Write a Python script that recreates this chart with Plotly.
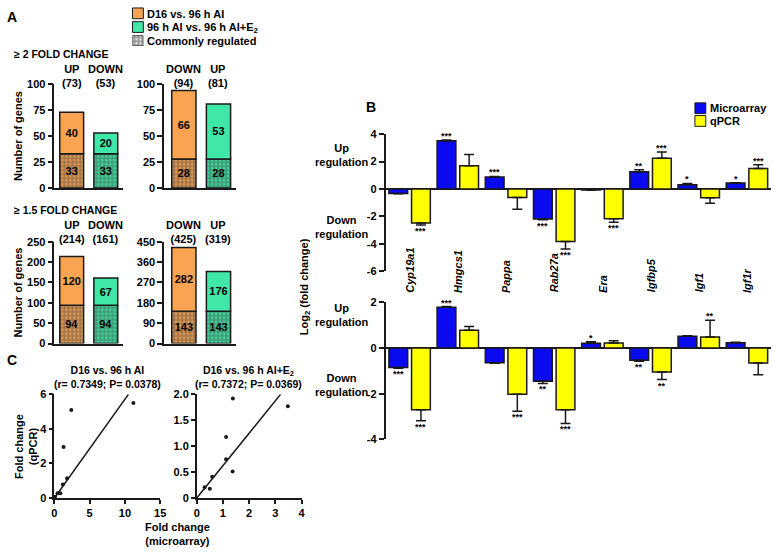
import plotly.graph_objects as go

# ---------------- DATA ----------------
# Panel A
cats_fc2_left = ["UP", "DOWN"]
common_fc2_left = [33, 33]
specific_fc2_left = [40, 20]
cats_fc2_right = ["DOWN", "UP"]
common_fc2_right = [28, 28]
specific_fc2_right = [66, 53]
cats_fc15_left = ["UP", "DOWN"]
common_fc15_left = [94, 94]
specific_fc15_left = [120, 67]
cats_fc15_right = ["DOWN", "UP"]
common_fc15_right = [143, 143]
specific_fc15_right = [282, 176]

# Panel B
genes = ["Cyp19a1", "Hmgcs1", "Pappa", "Rab27a", "Era", "Igfbp5", "Igf1", "Igf1r"]
micro_top = [-0.33, 3.52, 0.88, -2.19, -0.08, 1.26, 0.31, 0.43]
micro_top_err = [0.03, 0.06, 0.03, 0.06, 0.02, 0.14, 0.09, 0.03]
qpcr_top = [-2.48, 1.69, -0.62, -3.83, -2.17, 2.24, -0.64, 1.50]
qpcr_top_err = [0.16, 0.83, 0.86, 0.55, 0.26, 0.45, 0.41, 0.26]
micro_top_sig = ["", "***", "***", "***", "", "**", "*", "*"]
qpcr_top_sig = ["***", "", "", "***", "***", "***", "", "***"]

micro_bot = [-0.85, 1.79, -0.64, -1.45, 0.21, -0.53, 0.52, 0.23]
micro_bot_err = [0.03, 0.03, 0.03, 0.10, 0.07, 0.05, 0.02, 0.02]
qpcr_bot = [-2.70, 0.78, -2.02, -2.70, 0.22, -1.05, 0.49, -0.65]
qpcr_bot_err = [0.48, 0.16, 0.75, 0.60, 0.10, 0.33, 0.73, 0.52]
micro_bot_sig = ["***", "***", "", "**", "*", "**", "", ""]
qpcr_bot_sig = ["***", "", "***", "***", "", "**", "**", ""]

# Panel C
sc1_micro = [11.2, 2.4, 1.3, 1.8, 1.2, 0.85, 0.45, 0.1]
sc1_qpcr = [5.5, 5.1, 2.95, 1.15, 0.78, 0.28, 0.28, 0.07]
fit1_x = [0, 10.5]
fit1_y = [0, 6.0]
sc2_micro = [1.38, 3.48, 1.12, 1.12, 1.37, 0.59, 0.30, 0.50]
sc2_qpcr = [1.92, 1.77, 1.18, 0.75, 0.51, 0.41, 0.21, 0.18]
fit2_x = [0, 3.2]
fit2_y = [0, 2.0]

yB_top_ticks = [-6, -4, -2, 0, 2, 4]
yB_top_text = ["-6", "-4", "-2", "0", "2", "4"]
yB_bot_ticks = [-4, -2, 0, 2]
yB_bot_text = ["-4", "-2", "0", "2"]
yC2_ticks = [0, 0.5, 1.0, 1.5, 2.0]
yC2_text = ["0", "0.5", "1.0", "1.5", "2.0"]

# ---------------- STYLE ----------------
W, H = 779, 552
FONT = "Liberation Sans, Arial, sans-serif"
ORANGE = "#F9A452"
GREEN = "#3FE8A8"
BLUE = "#0A0AF0"
YELLOW = "#FFFF00"
DARK = "#1a1a1a"


def fx(p):
    return p / W


def fy(p):
    return 1 - p / H


def font(size=11, weight="bold", style="normal", color="black"):
    return dict(family=FONT, size=size, weight=weight, style=style, color=color)


fig = go.Figure()
annotations = []
shapes = []


def ann(text, x, y, size=11, xanchor="center", yanchor="middle", angle=0,
        style="normal", xref="paper", yref="paper", yshift=0):
    annotations.append(dict(
        text=text, showarrow=False,
        x=fx(x) if xref == "paper" else x,
        y=fy(y) if yref == "paper" else y,
        xref=xref, yref=yref, xanchor=xanchor, yanchor=yanchor,
        textangle=angle, font=font(size, style=style), yshift=yshift,
        borderpad=0))


# ---------------- PANEL A ----------------
BAR_W_A = 0.70
pattern_kw = dict(shape=".", fgcolor=DARK, size=4, solidity=0.7)
panelsA = [
    (cats_fc2_left, common_fc2_left, specific_fc2_left, "x", "y"),
    (cats_fc2_right, common_fc2_right, specific_fc2_right, "x2", "y2"),
    (cats_fc15_left, common_fc15_left, specific_fc15_left, "x3", "y3"),
    (cats_fc15_right, common_fc15_right, specific_fc15_right, "x4", "y4"),
]
for cats, common, spec, xa, ya in panelsA:
    cols = [ORANGE, GREEN]
    fig.add_trace(go.Bar(
        x=cats, y=common, width=BAR_W_A, xaxis=xa, yaxis=ya,
        marker=dict(color=cols, line=dict(color=DARK, width=1.5),
                    pattern=dict(bgcolor=cols, **pattern_kw)),
        text=[str(v) for v in common], textposition="inside",
        insidetextanchor="middle", textangle=0, textfont=font(11),
        constraintext="none", showlegend=False, hoverinfo="skip"))
    fig.add_trace(go.Bar(
        x=cats, y=spec, base=common, width=BAR_W_A, xaxis=xa, yaxis=ya,
        marker=dict(color=cols, line=dict(color=DARK, width=1.5)),
        text=[str(v) for v in spec], textposition="inside",
        insidetextanchor="middle", textangle=0, textfont=font(11),
        constraintext="none", showlegend=False, hoverinfo="skip"))
    ytop = 71.5 if ya in ("y", "y2") else 231
    for i, c in enumerate(cats):
        total = common[i] + spec[i]
        annotations.append(dict(
            text=f"{c}<br>({total})", x=i, y=fy(ytop), xref=xa, yref="paper",
            showarrow=False, xanchor="center", yanchor="middle",
            font=font(11)))

# legend pattern key (tiny hidden axis)
fig.add_trace(go.Bar(
    x=[0], y=[1], width=1, xaxis="x9", yaxis="y9",
    marker=dict(color="white", line=dict(color=DARK, width=1),
                pattern=dict(bgcolor="white", **pattern_kw)),
    showlegend=False, hoverinfo="skip"))

# ---------------- PANEL B ----------------
W_B = 0.39
OFF_BLUE = -0.43
OFF_YEL = 0.04


def err_kw(vals, errs):
    plus = [e if v >= 0 else 0 for v, e in zip(vals, errs)]
    minus = [e if v < 0 else 0 for v, e in zip(vals, errs)]
    return dict(type="data", symmetric=False, array=plus, arrayminus=minus,
                color=DARK, thickness=1.5, width=5)


for (mv, me, qv, qe, msig, qsig, xa, ya) in [
    (micro_top, micro_top_err, qpcr_top, qpcr_top_err, micro_top_sig, qpcr_top_sig, "x7", "y7"),
    (micro_bot, micro_bot_err, qpcr_bot, qpcr_bot_err, micro_bot_sig, qpcr_bot_sig, "x8", "y8"),
]:
    fig.add_trace(go.Bar(
        x=genes, y=mv, width=W_B, offset=OFF_BLUE, xaxis=xa, yaxis=ya,
        marker=dict(color=BLUE, line=dict(color=DARK, width=1.5)),
        error_y=err_kw(mv, me), showlegend=False, hoverinfo="skip"))
    fig.add_trace(go.Bar(
        x=genes, y=qv, width=W_B, offset=OFF_YEL, xaxis=xa, yaxis=ya,
        marker=dict(color=YELLOW, line=dict(color=DARK, width=1.5)),
        error_y=err_kw(qv, qe), showlegend=False, hoverinfo="skip"))
    for vals, errs, sigs, off in [(mv, me, msig, OFF_BLUE), (qv, qe, qsig, OFF_YEL)]:
        for i, (v, e, s) in enumerate(zip(vals, errs, sigs)):
            if not s:
                continue
            xc = i + off + W_B / 2
            if v >= 0:
                annotations.append(dict(text=s, x=xc, y=v + e, xref=xa, yref=ya,
                                        showarrow=False, xanchor="center", yanchor="bottom",
                                        yshift=-2, font=font(9), borderpad=0))
            else:
                annotations.append(dict(text=s, x=xc, y=v - e, xref=xa, yref=ya,
                                        showarrow=False, xanchor="center", yanchor="top",
                                        yshift=0, font=font(9), borderpad=0))

for i, g in enumerate(genes):
    annotations.append(dict(text=g, x=i, y=fy(295), xref="x7", yref="paper",
                            showarrow=False, textangle=-90, xanchor="center",
                            yanchor="bottom", font=font(11, style="italic")))

# ---------------- PANEL C ----------------
for mx, qy, fxs, fys, xa, ya in [
    (sc1_micro, sc1_qpcr, fit1_x, fit1_y, "x5", "y5"),
    (sc2_micro, sc2_qpcr, fit2_x, fit2_y, "x6", "y6"),
]:
    fig.add_trace(go.Scatter(x=fxs, y=fys, mode="lines", xaxis=xa, yaxis=ya,
                             line=dict(color=DARK, width=1.5), showlegend=False,
                             hoverinfo="skip", cliponaxis=False))
    fig.add_trace(go.Scatter(x=mx, y=qy, mode="markers", xaxis=xa, yaxis=ya,
                             marker=dict(color=DARK, size=4), showlegend=False,
                             hoverinfo="skip", cliponaxis=False))

# ---------------- AXES ----------------
def dom_x(a, b):
    return [fx(a), fx(b)]


def dom_y(top, bottom):
    return [fy(bottom), fy(top)]


axis_common = dict(showgrid=False, zeroline=False, linecolor=DARK, linewidth=1.5,
                   tickcolor=DARK, tickwidth=1.5, tickfont=font(11))

layout = dict(
    width=W, height=H, margin=dict(l=0, r=0, t=0, b=0),
    paper_bgcolor="white", plot_bgcolor="white", barmode="overlay",
    showlegend=False,
)

# A axes
for n, (xd, yd, xr, yr, dt) in {
    "": ((52, 121), (80, 186), (-0.507, 1.493), (0, 100), 25),
    "2": ((163, 236), (80, 186), (-0.571, 1.514), (0, 100), 25),
    "3": ((52, 121), (241, 345), (-0.507, 1.493), (0, 250), 50),
    "4": ((163, 236), (241, 345), (-0.571, 1.514), (0, 450), 90),
}.items():
    layout["xaxis" + n] = dict(axis_common, domain=dom_x(*xd), range=list(xr),
                               showline=True, ticks="", showticklabels=False,
                               anchor="y" + n, fixedrange=True)
    layout["yaxis" + n] = dict(axis_common, domain=dom_y(*yd), range=list(yr),
                               dtick=dt, tick0=0, showline=True, ticks="outside",
                               ticklen=5, anchor="x" + n)

# C axes
layout["xaxis5"] = dict(axis_common, domain=dom_x(52, 159), range=[0, 15], dtick=5,
                        showline=True, ticks="outside", ticklen=4, anchor="y5")
layout["yaxis5"] = dict(axis_common, domain=dom_y(397, 503), range=[0, 6], dtick=2,
                        showline=True, ticks="outside", ticklen=4, anchor="x5")
layout["xaxis6"] = dict(axis_common, domain=dom_x(196, 302), range=[0, 4], dtick=1,
                        showline=True, ticks="outside", ticklen=4, anchor="y6")
layout["yaxis6"] = dict(axis_common, domain=dom_y(397, 503), range=[0, 2],
                        tickvals=yC2_ticks, ticktext=yC2_text,
                        showline=True, ticks="outside", ticklen=4, anchor="x6")

# B axes
layout["xaxis7"] = dict(axis_common, domain=dom_x(387, 777), range=[-0.5, 7.5],
                        showline=False, ticks="", showticklabels=False, anchor="y7")
layout["yaxis7"] = dict(axis_common, domain=dom_y(131, 271), range=[-6, 4],
                        tickvals=yB_top_ticks, ticktext=yB_top_text,
                        showline=True, ticks="outside", ticklen=5, anchor="x7",
                        zeroline=True, zerolinecolor=DARK, zerolinewidth=1.5)
layout["xaxis8"] = dict(axis_common, domain=dom_x(387, 777), range=[-0.5, 7.5],
                        showline=False, ticks="", showticklabels=False, anchor="y8")
layout["yaxis8"] = dict(axis_common, domain=dom_y(303, 443), range=[-4, 2],
                        tickvals=yB_bot_ticks, ticktext=yB_bot_text,
                        showline=True, ticks="outside", ticklen=5, anchor="x8",
                        zeroline=True, zerolinecolor=DARK, zerolinewidth=1.5)

# legend pattern axis
layout["xaxis9"] = dict(domain=dom_x(131, 142), range=[-0.5, 0.5], visible=False, anchor="y9")
layout["yaxis9"] = dict(domain=dom_y(30, 41), range=[0, 1], visible=False, anchor="x9")

# ---------------- TEXT ----------------
ann("A", 3, 11, size=14, xanchor="left")
ann("B", 366, 103, size=14, xanchor="left")
ann("C", 3, 362, size=14, xanchor="left")

# A legend
shapes.append(dict(type="rect", xref="paper", yref="paper", x0=fx(131), x1=fx(142),
                   y0=fy(13), y1=fy(2), fillcolor=ORANGE, line=dict(color=DARK, width=1)))
shapes.append(dict(type="rect", xref="paper", yref="paper", x0=fx(131), x1=fx(142),
                   y0=fy(27), y1=fy(16), fillcolor=GREEN, line=dict(color=DARK, width=1)))
ann("D16 vs. 96 h AI", 145, 8, xanchor="left")
ann("96 h AI vs. 96 h AI+E<sub>2</sub>", 145, 22, xanchor="left")
ann("Commonly regulated", 145, 35.5, xanchor="left")

ann("≥ 2 FOLD CHANGE", 10, 49, size=10.5, xanchor="left")
ann("≥ 1.5 FOLD CHANGE", 10, 209, size=10.5, xanchor="left")
ann("Number of genes", 15, 133, angle=-90)
ann("Number of genes", 15, 293, angle=-90)

# B legend
shapes.append(dict(type="rect", xref="paper", yref="paper", x0=fx(700), x1=fx(711),
                   y0=fy(110), y1=fy(99), fillcolor=BLUE, line=dict(color=DARK, width=1)))
shapes.append(dict(type="rect", xref="paper", yref="paper", x0=fx(700), x1=fx(711),
                   y0=fy(123), y1=fy(112), fillcolor=YELLOW, line=dict(color=DARK, width=1)))
ann("Microarray", 714, 104.5, xanchor="left")
ann("qPCR", 714, 117.5, xanchor="left")

ann("Up<br>regulation", 342, 152)
ann("Down<br>regulation", 342, 226)
ann("Up<br>regulation", 342, 316)
ann("Down<br>regulation", 342, 387)
ann("Log<sub>2</sub> (fold change)", 305, 287, angle=-90)

# C titles
ann("D16 vs. 96 h AI<br>(r= 0.7349; P= 0.0378)", 106, 379, size=10.5)
ann("D16 vs. 96 h AI+E<sub>2</sub><br>(r= 0.7372; P= 0.0369)", 248, 379, size=10.5)
ann("Fold change<br>(qPCR)", 23, 450, angle=-90)
ann("Fold change<br>(microarray)", 177, 540)

layout["annotations"] = annotations
layout["shapes"] = shapes
fig.update_layout(**layout)
fig.write_html("out.html",
               config={"displayModeBar": False},
               post_script="document.body.style.margin='0';document.body.style.overflow='hidden';")
